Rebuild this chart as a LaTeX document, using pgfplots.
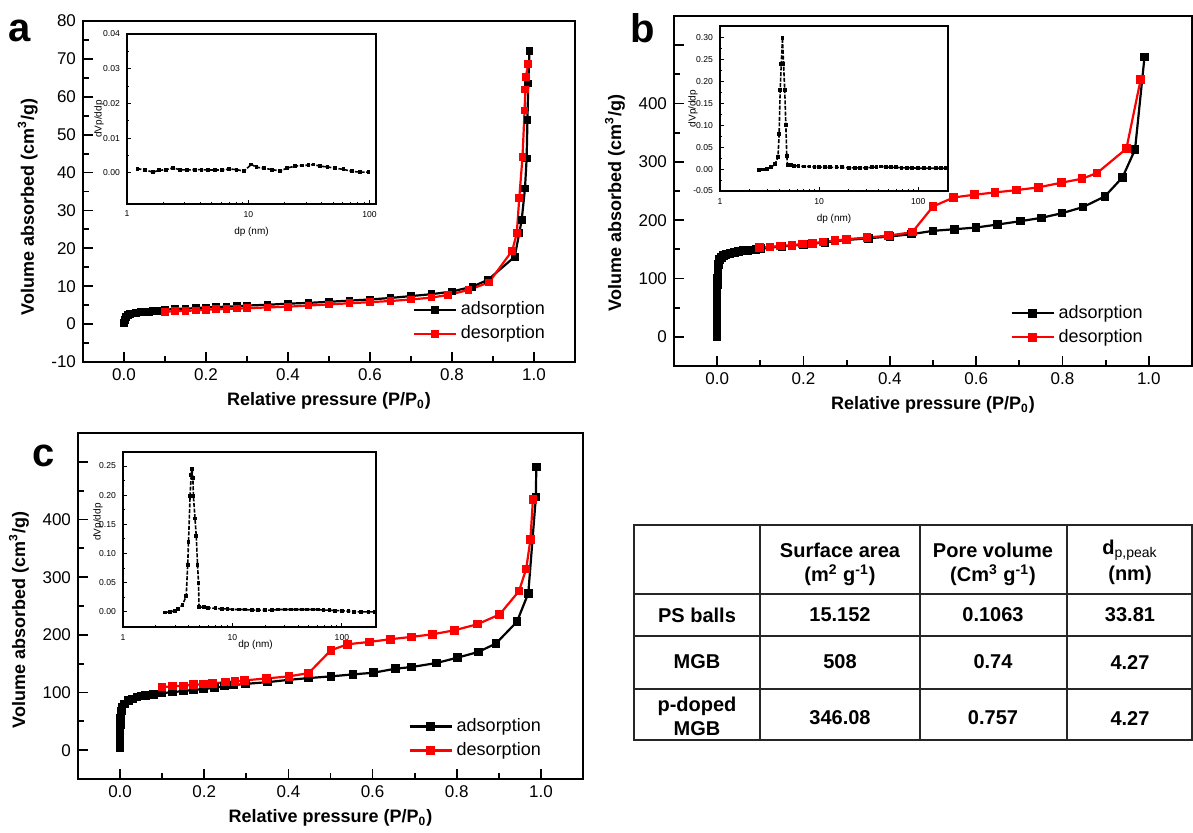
\documentclass[border=0pt]{standalone}
\usepackage{fontspec}
\setmainfont{Liberation Sans}
\usepackage{pgfplots}
\pgfplotsset{compat=1.18}

\definecolor{adsred}{RGB}{255,0,0}

\pgfplotsset{
  mainax/.style={
    scale only axis,
    axis line style={line width=1.2pt},
    every tick/.style={black, line width=0.9pt},
    tick align=inside,
    xtick pos=bottom, ytick pos=left,
    major tick length=5pt, minor tick length=3pt,
    xmin=-0.1, xmax=1.1,
    xtick={0,0.2,0.4,0.6,0.8,1.0},
    minor x tick num=1,
    /pgf/number format/assume math mode=true,
    xticklabel style={/pgf/number format/fixed, /pgf/number format/fixed zerofill,
      /pgf/number format/precision=1},
    tick label style={font=\fontsize{8.5}{9}\selectfont},
    label style={font=\bfseries\fontsize{9}{10}\selectfont},
    xlabel={Relative pressure (P/P\textsubscript{0})},
    ylabel={Volume absorbed (cm\textsuperscript{3}/g)},
    xlabel style={yshift=1pt},
    legend style={draw=none, fill=none, font=\fontsize{9}{10}\selectfont,
      anchor=south east, row sep=0pt},
    legend cell align=left,
    legend image code/.code={
      \draw[mark repeat=2,mark phase=2] plot coordinates {(0pt,0pt) (10.5pt,0pt) (21pt,0pt)};},
  },
  ads/.style={black, line width=1.1pt, mark=square*, mark size=1.6pt, mark options={solid}},
  des/.style={adsred, line width=1.1pt, mark=square*, mark size=1.6pt, mark options={solid}},
  psdinset/.style={
    scale only axis,
    axis background/.style={fill=white},
    axis line style={line width=0.7pt},
    every tick/.style={black, line width=0.5pt},
    tick align=inside,
    xtick pos=bottom, ytick pos=left,
    major tick length=2pt, minor tick length=1.2pt,
    xmin=1,
    xtick={1,10,100}, xticklabels={1,10,100},
    scaled y ticks=false,
    /pgf/number format/assume math mode=true,
    yticklabel style={/pgf/number format/fixed, /pgf/number format/fixed zerofill,
      /pgf/number format/precision=2},
    tick label style={font=\fontsize{4.3}{5}\selectfont},
    label style={font=\fontsize{5}{6}\selectfont},
    xlabel={dp (nm)}, ylabel={dVp/ddp},
    xlabel style={yshift=2pt},
  },
  psd/.style={black, line width=0.8pt, dash pattern=on 2pt off 0.8pt,
    mark=square*, mark size=0.55pt, mark options={solid}},
}

\begin{document}
\begin{tikzpicture}
\useasboundingbox (0,0) rectangle (596.5pt,-416pt);

% ---------------- panel a ----------------
\begin{axis}[mainax, at={(41.5pt,-10.5pt)}, anchor=north west,
  width=246pt, height=170.5pt,
  ymin=-10, ymax=80, ytick={-10,0,10,20,30,40,50,60,70,80}, minor y tick num=1,
  ylabel style={at={(ticklabel cs:0.455)}},
  legend style={at={(0.96,0.035)}}]
\addplot[ads, mark size=1.4pt] coordinates {
 (0,0.2) (0.002,1.0) (0.005,1.8) (0.01,2.3) (0.015,2.6) (0.02,2.8) (0.03,3.0)
 (0.04,3.1) (0.05,3.2) (0.06,3.3) (0.07,3.4) (0.08,3.5) (0.09,3.6) (0.1,3.8)
 (0.125,4.0) (0.15,4.1) (0.175,4.2) (0.2,4.4) (0.225,4.5) (0.25,4.6) (0.275,4.7)
 (0.3,4.9) (0.35,5.1) (0.4,5.4) (0.45,5.6) (0.5,5.9) (0.55,6.2) (0.6,6.5)
 (0.65,6.9) (0.7,7.4) (0.75,7.9) (0.8,8.6) (0.85,9.9) (0.888,11.7) (0.953,17.8)
 (0.964,24) (0.970,27.5) (0.978,35.8) (0.982,43.7) (0.984,53.8) (0.986,63.5) (0.989,72.1)};
\addlegendentry{adsorption}
\addplot[des, mark size=1.4pt] coordinates {
 (0.1,3.3) (0.125,3.4) (0.15,3.5) (0.175,3.6) (0.2,3.8) (0.225,3.9) (0.25,4.0)
 (0.275,4.1) (0.3,4.2) (0.35,4.4) (0.4,4.6) (0.45,4.9) (0.5,5.2) (0.55,5.5)
 (0.6,5.8) (0.65,6.1) (0.7,6.5) (0.75,7.0) (0.79,7.7) (0.84,9.0) (0.89,11.0)
 (0.947,19.4) (0.958,24) (0.964,33.2) (0.972,44.2) (0.977,56.4) (0.979,61.9)
 (0.980,65.2) (0.986,68.7)};
\addlegendentry{desorption}
\end{axis}

\begin{axis}[xmode=log, psdinset, at={(63.5pt,-17pt)}, anchor=north west,
  width=124.5pt, height=85pt, xmax=113,
  ylabel style={at={(axis description cs:-0.112,0.5)}, anchor=center},
  ymin=-0.009, ymax=0.04, ytick={0,0.01,0.02,0.03,0.04}, minor y tick num=1]
\addplot[psd] coordinates {
 (1.22,0.0012) (1.40,0.0008) (1.64,0.0002) (1.84,0.0007) (2.09,0.0009) (2.40,0.0014)
 (2.72,0.0009) (3.13,0.0008) (3.62,0.0009) (4.11,0.0009) (4.67,0.0008) (5.3,0.0008)
 (6.1,0.0008) (6.97,0.0011) (8.0,0.0009) (9.2,0.0005) (10.6,0.0024) (11.7,0.0016)
 (13.5,0.0013) (15.8,0.0009) (18.3,0.0005) (21,0.0014) (24.3,0.0019) (27.6,0.0021)
 (31.4,0.0022) (34.5,0.0024) (39.0,0.0019) (45,0.0017) (51.9,0.0013) (60.9,0.0010)
 (71.3,0.0004) (83.4,0.0002) (98,0.0002)};
\end{axis}

% ---------------- panel b ----------------
\begin{axis}[mainax, at={(337pt,-8pt)}, anchor=north west,
  width=259pt, height=175pt,
  ymin=-50, ymax=550, ytick={0,100,200,300,400,500}, yticklabels={0,100,200,300,400,},
  minor y tick num=1,
  ylabel style={at={(ticklabel cs:0.466)}},
  legend style={at={(0.925,0.035)}}]
\addplot[ads] coordinates {
 (0,0) (0,10) (0,20) (0,30) (0,40) (0,50) (0,60) (0,70) (0,80) (0.0005,90)
 (0.001,100) (0.0015,110) (0.002,118) (0.003,124) (0.004,129) (0.006,133)
 (0.01,136) (0.015,139) (0.02,141) (0.03,143) (0.04,145) (0.05,146.5) (0.06,147.5)
 (0.07,148.5) (0.08,149) (0.09,150) (0.1,151) (0.15,155) (0.2,158) (0.25,162)
 (0.3,166) (0.35,169) (0.4,172) (0.45,176) (0.5,181.7) (0.55,184.5) (0.6,187.4)
 (0.65,192.6) (0.703,198.3) (0.751,204) (0.799,212) (0.847,222.3) (0.898,240.7)
 (0.939,273.4) (0.968,321) (0.99,480)};
\addlegendentry{adsorption}
\addplot[des] coordinates {
 (0.098,153) (0.122,154.2) (0.147,155.9) (0.173,157) (0.197,159.3) (0.221,160.5)
 (0.245,162.7) (0.273,165) (0.299,167.3) (0.347,170.2) (0.397,173.6) (0.452,179.4)
 (0.5,223.5) (0.548,239) (0.596,243.6) (0.644,247.6) (0.694,251.6) (0.744,256.2)
 (0.797,264.2) (0.845,271) (0.880,280.8) (0.948,322.6) (0.981,441)};
\addlegendentry{desorption}
\end{axis}

\begin{axis}[xmode=log, psdinset, at={(360pt,-13pt)}, anchor=north west,
  width=114pt, height=82.5pt, xmax=200,
  ylabel style={at={(axis description cs:-0.118,0.5)}, anchor=center},
  ymin=-0.05, ymax=0.327, ytick={-0.05,0,0.05,0.10,0.15,0.20,0.25,0.30}, minor y tick num=1]
\addplot[psd] coordinates {
 (2.47,-0.002) (2.7,-0.001) (3.0,0.001) (3.3,0.004) (3.6,0.012) (3.85,0.027)
 (3.95,0.08) (4.05,0.18) (4.15,0.24) (4.27,0.30) (4.38,0.24) (4.5,0.18) (4.62,0.10)
 (4.72,0.03) (4.80,0.010) (5.2,0.010) (5.6,0.008) (6.2,0.007) (7,0.006) (8,0.006)
 (9,0.005) (10,0.005) (11.5,0.004) (13,0.004) (15,0.004) (17,0.004) (20,0.003)
 (23,0.003) (26,0.003) (30,0.003) (34,0.004) (38,0.005) (42,0.006) (47,0.005)
 (53,0.004) (60,0.004) (68,0.003) (77,0.003) (87,0.003) (100,0.002) (115,0.002)
 (130,0.002) (150,0.002) (170,0.002) (190,0.002)};
\end{axis}

% ---------------- panel c ----------------
\begin{axis}[mainax, at={(39pt,-216.5pt)}, anchor=north west,
  width=252.5pt, height=173pt,
  ymin=-50, ymax=550, ytick={0,100,200,300,400,500}, yticklabels={0,100,200,300,400,},
  minor y tick num=1,
  ylabel style={at={(ticklabel cs:0.46)}},
  legend style={at={(0.937,0.035)}}]
\addplot[ads] coordinates {
 (0,3.5) (0,15) (0,25) (0,35) (0.001,45) (0.001,55) (0.002,62) (0.003,68)
 (0.005,75) (0.011,80) (0.02,86) (0.03,89) (0.04,92) (0.05,94) (0.06,95) (0.07,96)
 (0.08,97) (0.1,99) (0.125,100.6) (0.15,102.5) (0.175,104.7) (0.198,105.8)
 (0.225,108.5) (0.248,111) (0.27,113) (0.298,115) (0.351,118) (0.401,122)
 (0.448,125) (0.501,128) (0.553,131.4) (0.602,134.3) (0.654,141.3) (0.693,144.2)
 (0.752,151.2) (0.802,160.5) (0.851,170.3) (0.893,184.9) (0.943,222.7) (0.97,272)
 (0.988,439) (0.989,491)};
\addlegendentry{adsorption}
\addplot[des] coordinates {
 (0.1,109.3) (0.125,111) (0.15,111.6) (0.175,113.4) (0.198,114.5) (0.22,115.7)
 (0.25,118) (0.273,119) (0.295,121) (0.348,124.4) (0.401,128) (0.448,133.7)
 (0.501,173.3) (0.541,183.7) (0.593,187.8) (0.642,192.4) (0.693,196.5) (0.743,201)
 (0.795,208) (0.85,218.6) (0.902,235.5) (0.948,276) (0.965,314.5) (0.975,365)
 (0.981,434.9)};
\addlegendentry{desorption}
\end{axis}

\begin{axis}[xmode=log, psdinset, at={(61.5pt,-226pt)}, anchor=north west,
  width=126.5pt, height=87.5pt, xmax=205,
  ymin=-0.026, ymax=0.274, ytick={0,0.05,0.10,0.15,0.20,0.25}, minor y tick num=1,
  xlabel style={yshift=5pt, xshift=3pt},
  ylabel style={at={(axis description cs:-0.099,0.6)}, anchor=center}]
\addplot[psd] coordinates {
 (2.44,-0.001) (2.7,0.000) (3.0,0.002) (3.2,0.005) (3.5,0.012) (3.78,0.027)
 (3.9,0.08) (3.97,0.12) (4.1,0.198) (4.2,0.235) (4.27,0.245) (4.35,0.23) (4.4,0.198)
 (4.55,0.16) (4.67,0.13) (4.8,0.08) (4.9,0.05) (4.95,0.008) (5.5,0.008) (6,0.007)
 (7,0.006) (8,0.005) (9,0.005) (10,0.004) (11.5,0.004) (13,0.004) (15,0.003)
 (17,0.003) (20,0.003) (23,0.003) (26,0.004) (30,0.004) (34,0.004) (38,0.004)
 (43,0.004) (48,0.004) (54,0.004) (60,0.004) (68,0.003) (77,0.003) (87,0.002)
 (100,0.002) (115,0.001) (130,0.000) (150,0.000) (175,0.000) (200,0.000)};
\end{axis}

% ---------------- panel letters and table ----------------
\begin{scope}[x=0.5pt, y=-0.5pt]
\node[font=\bfseries\fontsize{20}{20}\selectfont] at (20,31) {a};
\node[font=\bfseries\fontsize{20}{20}\selectfont] at (643,28) {b};
\node[font=\bfseries\fontsize{20}{20}\selectfont] at (44,456) {c};

\draw[line width=1pt, black!85] (634,525) rectangle (1192,740);
\draw[line width=1pt, black!85] (634,594) -- (1192,594) (634,636) -- (1192,636)
  (634,689) -- (1192,689);
\draw[line width=1pt, black!85] (760,525) -- (760,740) (920,525) -- (920,740)
  (1067,525) -- (1067,740);

\begin{scope}[every node/.style={font=\bfseries\fontsize{10}{11}\selectfont, align=center}]
\node at (840,550) {Surface area};
\node at (840,575) {(m\textsuperscript{2} g\textsuperscript{-1})};
\node at (993,550) {Pore volume};
\node at (993,575) {(Cm\textsuperscript{3} g\textsuperscript{-1})};
\node at (1130,550) {d\textsubscript{\mdseries p,peak}};
\node at (1130,575) {(nm)};
\node at (697,615) {PS balls};
\node at (840,615) {15.152};
\node at (993,615) {0.1063};
\node at (1130,615) {33.81};
\node at (697,662) {MGB};
\node at (840,662) {508};
\node at (993,662) {0.74};
\node at (1130,662) {4.27};
\node at (697,706) {p-doped};
\node at (697,729) {MGB};
\node at (840,718) {346.08};
\node at (993,718) {0.757};
\node at (1130,718) {4.27};
\end{scope}
\end{scope}
\end{tikzpicture}
\end{document}
